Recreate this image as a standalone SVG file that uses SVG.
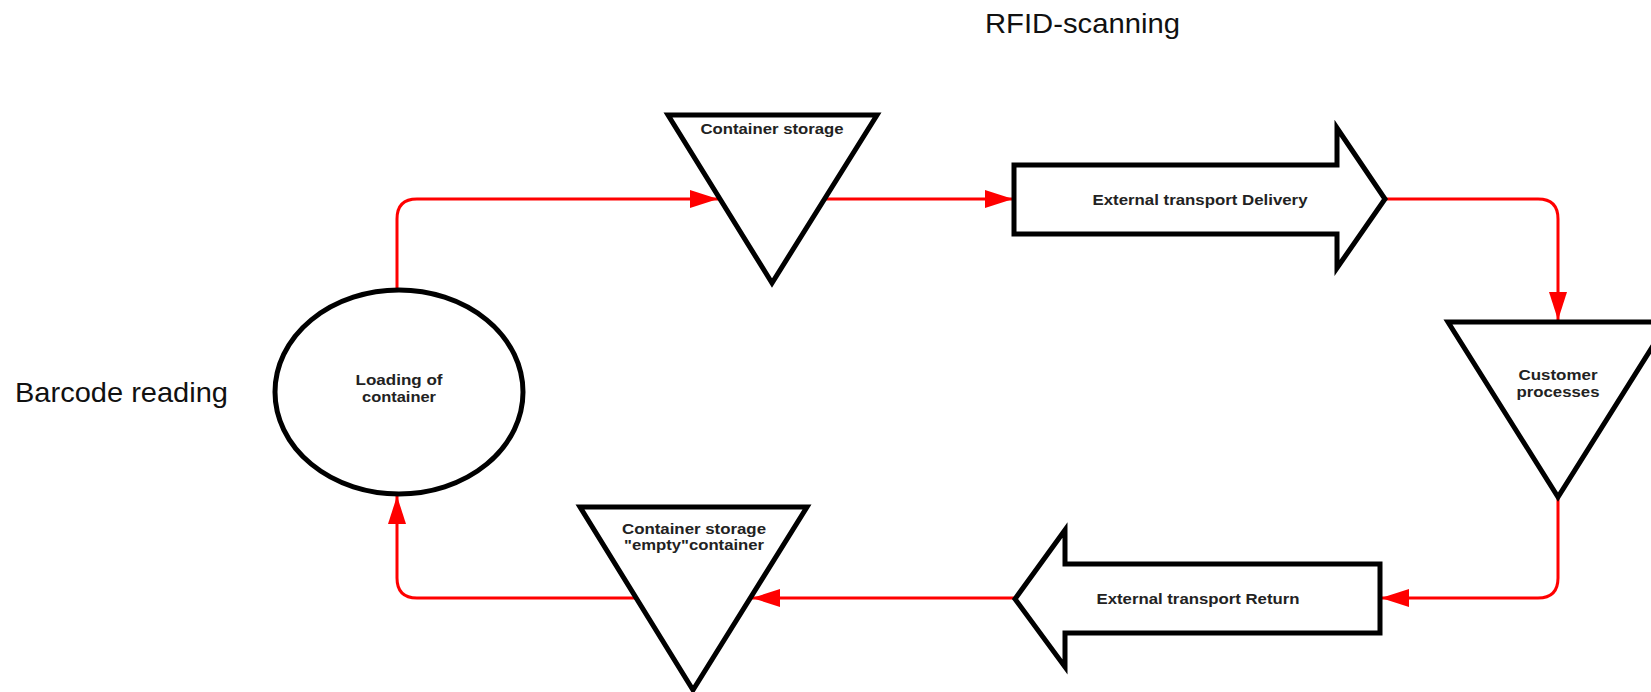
<svg xmlns="http://www.w3.org/2000/svg" width="1651" height="692" viewBox="0 0 1651 692">
<style>
.shape{fill:#fff;stroke:#000;stroke-width:5;stroke-linejoin:miter}
.conn{fill:none;stroke:#ff0000;stroke-width:3}
.lbl{font-family:"Liberation Sans",Arial,sans-serif;font-size:15px;font-weight:bold;fill:#222;text-anchor:middle}
.big{font-family:"Liberation Sans",Arial,sans-serif;font-size:28px;fill:#111}
</style>
<defs>
<marker id="ah" markerUnits="userSpaceOnUse" markerWidth="28" markerHeight="18" refX="28" refY="9" orient="auto">
<path d="M0,0 L28,9 L0,18 Z" fill="#ff0000"/>
</marker>
</defs>
<rect width="1651" height="692" fill="#fff"/>
<text class="big" x="985" y="33" textLength="195" lengthAdjust="spacingAndGlyphs">RFID-scanning</text>
<text class="big" x="15" y="402" textLength="213" lengthAdjust="spacingAndGlyphs">Barcode reading</text>
<g id="connectors">
<path class="conn" d="M397,290 L397,219 Q397,199 417,199 L718,199" marker-end="url(#ah)"/>
<path class="conn" d="M822,199 L1013,199" marker-end="url(#ah)"/>
<path class="conn" d="M1385,199 L1538,199 Q1558,199 1558,219 L1558,320" marker-end="url(#ah)"/>
<path class="conn" d="M1558,497 L1558,578 Q1558,598 1538,598 L1381,598" marker-end="url(#ah)"/>
<path class="conn" d="M1015,598 L752,598" marker-end="url(#ah)"/>
<path class="conn" d="M637,598 L417,598 Q397,598 397,578 L397,496" marker-end="url(#ah)"/>
</g>
<g id="node-storage">
<polygon class="shape" points="668,115 877,115 772,283"/>
<text class="lbl" x="772" y="134" textLength="143" lengthAdjust="spacingAndGlyphs">Container storage</text>
</g>
<g id="node-delivery">
<path class="shape" d="M1014,165 L1337,165 L1337,128 L1385,199 L1337,268 L1337,234 L1014,234 Z"/>
<text class="lbl" x="1200" y="205" textLength="215" lengthAdjust="spacingAndGlyphs">External transport Delivery</text>
</g>
<g id="node-customer">
<polygon class="shape" points="1448,322 1668,322 1558,497"/>
<text class="lbl" x="1558" y="380" textLength="79" lengthAdjust="spacingAndGlyphs">Customer</text>
<text class="lbl" x="1558" y="397" textLength="83" lengthAdjust="spacingAndGlyphs">processes</text>
</g>
<g id="node-return">
<path class="shape" d="M1380,564 L1065,564 L1065,530 L1015,599 L1065,667 L1065,633 L1380,633 Z"/>
<text class="lbl" x="1198" y="604" textLength="203" lengthAdjust="spacingAndGlyphs">External transport Return</text>
</g>
<g id="node-empty-storage">
<polygon class="shape" points="580,507 807,507 693,690"/>
<text class="lbl" x="694" y="534" textLength="144" lengthAdjust="spacingAndGlyphs">Container storage</text>
<text class="lbl" x="694" y="550" textLength="140" lengthAdjust="spacingAndGlyphs">"empty"container</text>
</g>
<g id="node-loading">
<ellipse class="shape" cx="399" cy="392" rx="124" ry="102"/>
<text class="lbl" x="399" y="385" textLength="87" lengthAdjust="spacingAndGlyphs">Loading of</text>
<text class="lbl" x="399" y="402" textLength="74" lengthAdjust="spacingAndGlyphs">container</text>
</g>
</svg>
